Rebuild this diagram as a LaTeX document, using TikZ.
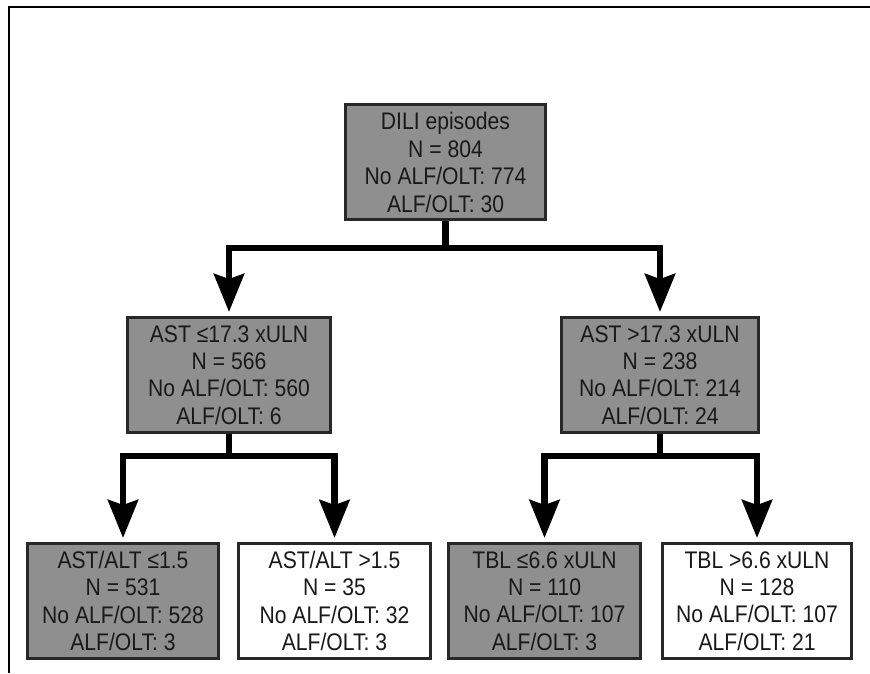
\documentclass[tikz,border=0pt]{standalone}
\usepackage{fontspec}
\setmainfont{Liberation Sans}[FakeStretch=0.88]
\usetikzlibrary{arrows.meta}
\definecolor{boxgray}{RGB}{143,143,143}
\definecolor{boxline}{RGB}{40,40,40}

\begin{document}
\begin{tikzpicture}[x=0.5pt,y=-0.5pt,
    branch/.style={draw,line width=3.3pt,shorten >=2pt,
      -{Stealth[length=19pt,width=15pt,inset=2.5pt]}}]

      \useasboundingbox (0,0) rectangle (870,673);
      \draw[line width=1pt] (9,673) -- (9,7) -- (870,7);

      \begin{scope}[every node/.style={draw=boxline,line width=1.5pt,align=center,
          inner sep=0pt,minimum height=57.5pt,text=black!90,
          font=\fontsize{12}{13.7}\selectfont}]
        \node[fill=boxgray,minimum width=100pt] (1) at (445.5,162.5)
          {DILI episodes\\N = 804\\No ALF/OLT: 774\\ALF/OLT: 30};
        \node[fill=boxgray,minimum width=101.5pt] (2) at (229,375)
          {AST ≤17.3 xULN\\N = 566\\No ALF/OLT: 560\\ALF/OLT: 6};
        \node[fill=boxgray,minimum width=98.5pt] (3) at (660,375)
          {AST >17.3 xULN\\N = 238\\No ALF/OLT: 214\\ALF/OLT: 24};
        \node[fill=boxgray,minimum width=95.5pt] (4) at (123,601)
          {AST/ALT ≤1.5\\N = 531\\No ALF/OLT: 528\\ALF/OLT: 3};
        \node[fill=white,minimum width=96pt] (5) at (334.5,601)
          {AST/ALT >1.5\\N = 35\\No ALF/OLT: 32\\ALF/OLT: 3};
        \node[fill=boxgray,minimum width=96pt] (6) at (544.5,601)
          {TBL ≤6.6 xULN\\N = 110\\No ALF/OLT: 107\\ALF/OLT: 3};
        \node[fill=white,minimum width=94.5pt] (7) at (757,601)
          {TBL >6.6 xULN\\N = 128\\No ALF/OLT: 107\\ALF/OLT: 21};
      \end{scope}

      \path[branch] (1.south) |- (2.north |- 0,248) -- (2.north);
      \path[branch] (1.south) |- (3.north |- 0,248) -- (3.north);
      \path[branch] (2.south) |- (4.north |- 0,456) -- (4.north);
      \path[branch] (2.south) |- (5.north |- 0,456) -- (5.north);
      \path[branch] (3.south) |- (6.north |- 0,456) -- (6.north);
      \path[branch] (3.south) |- (7.north |- 0,456) -- (7.north);

    \end{tikzpicture}
\end{document}
